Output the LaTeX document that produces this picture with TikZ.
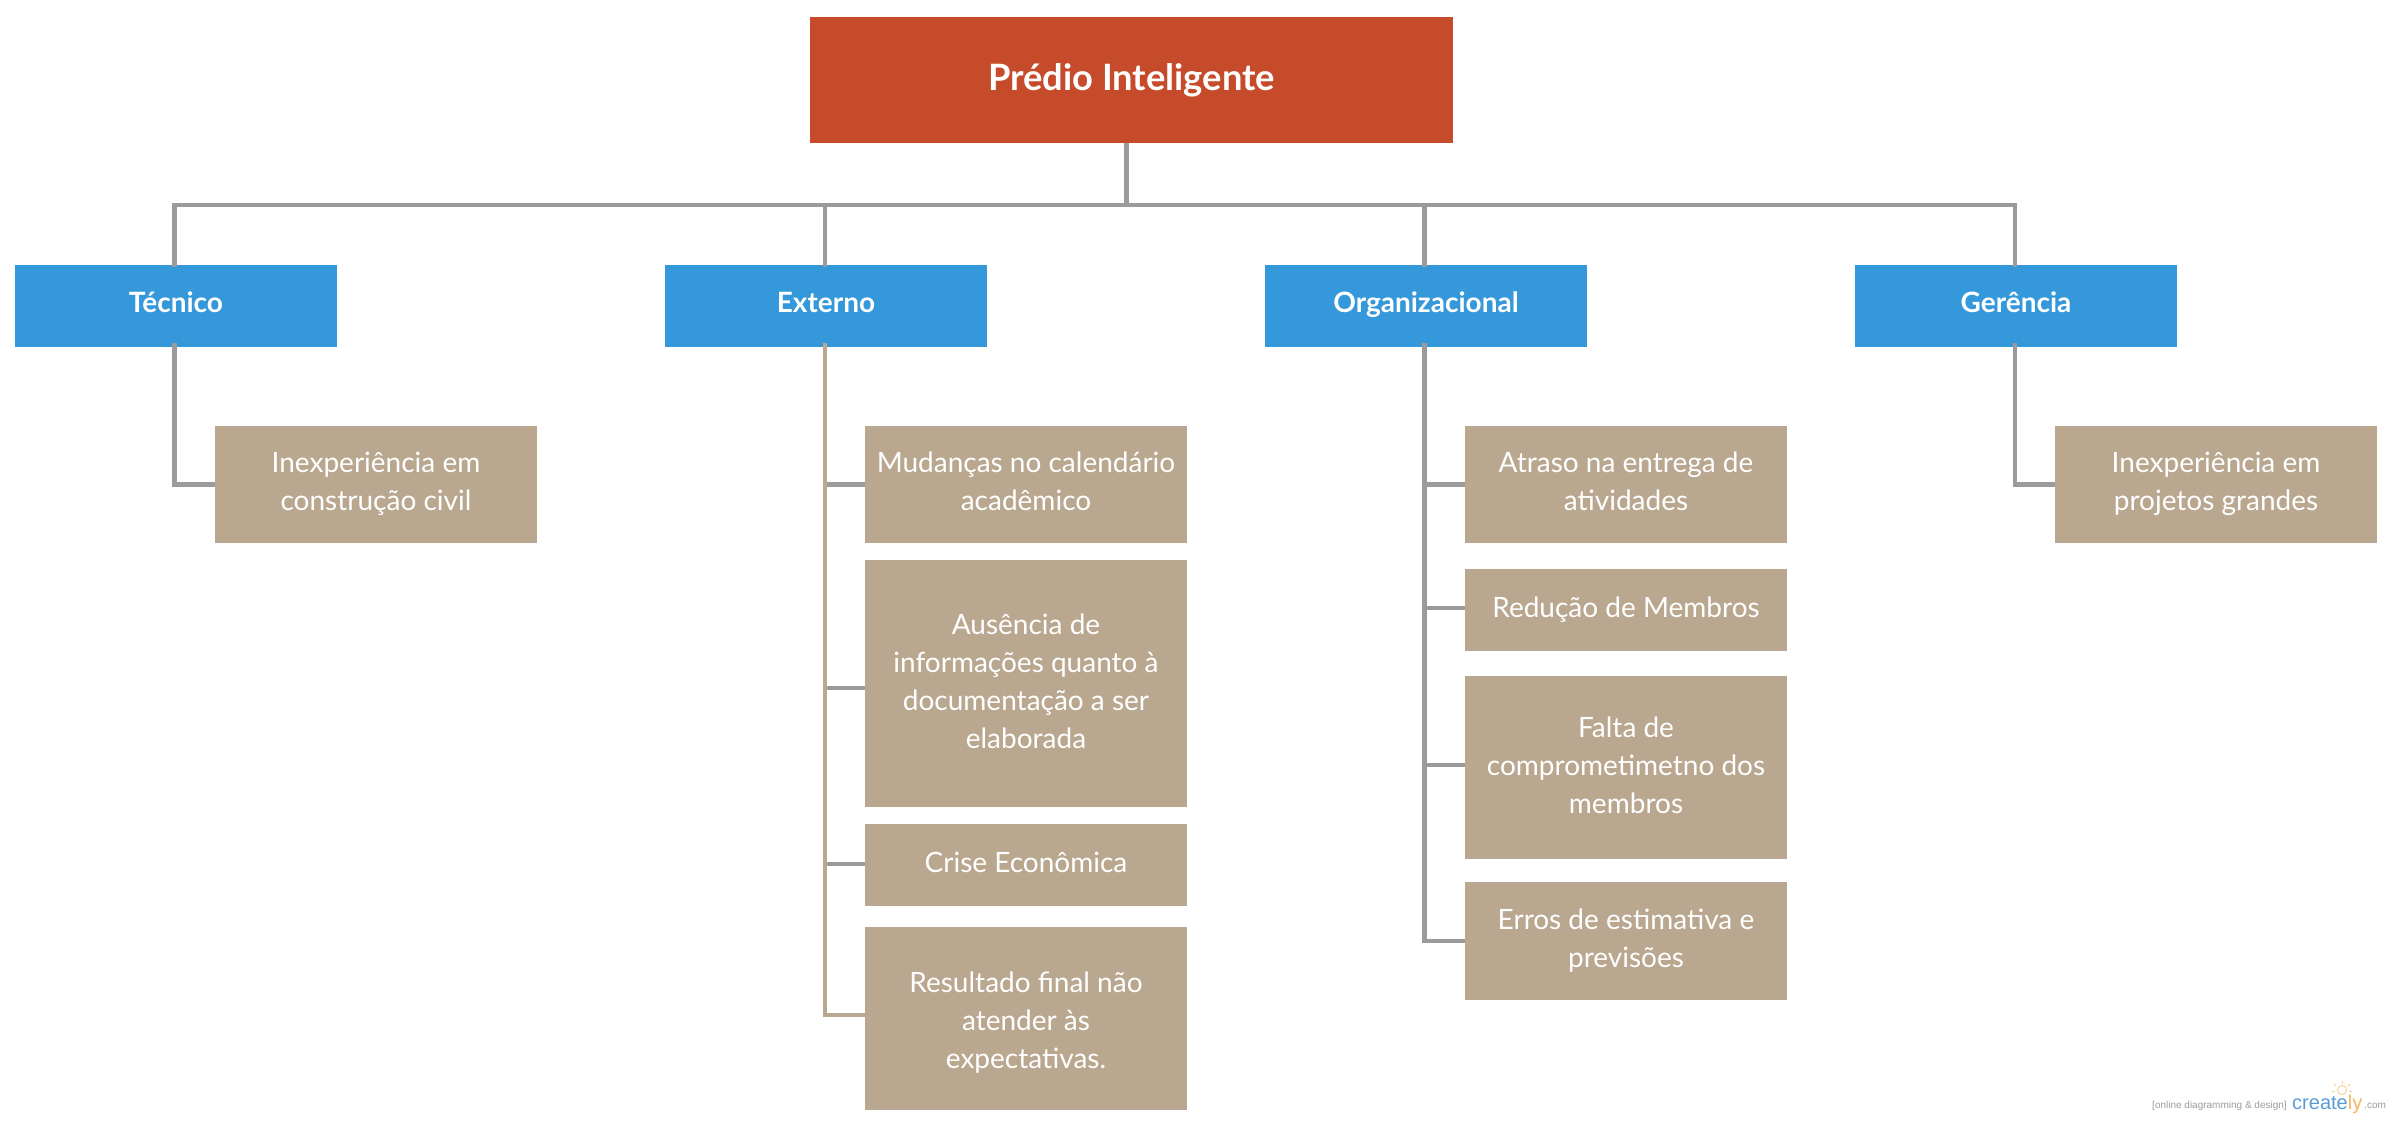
\documentclass[tikz,border=0pt]{standalone}
\usepackage{fontspec}
\setmainfont{Lato}
\newfontfamily\logofont{Liberation Sans}
\definecolor{rootred}{HTML}{C64B2B}
\definecolor{catblue}{HTML}{3498DB}
\definecolor{leaftan}{HTML}{B9A78F}
\definecolor{linegray}{HTML}{9B9B9B}
\definecolor{logoblue}{HTML}{5B9BD5}
\definecolor{logoorange}{HTML}{F5B562}
\definecolor{logogray}{HTML}{9A9A9A}
\newcommand{\liftxt}[2]{\raisebox{#1}[0pt][0pt]{\begin{tabular}[c]{@{}c@{}}#2\end{tabular}}}
\tikzset{
  rootbox/.style={fill=rootred,text=white,inner sep=0pt,minimum width=643pt,minimum height=126pt,font=\fontsize{36.3}{42}\selectfont\bfseries},
  catbox/.style={fill=catblue,text=white,inner sep=0pt,minimum width=322pt,minimum height=82pt,font=\fontsize{28}{38}\selectfont\bfseries},
  leafbox/.style={fill=leaftan,text=white,inner sep=0pt,minimum width=322pt,font=\fontsize{28}{38}\selectfont},
  conn/.style={draw=linegray,line width=4.4pt,line join=miter},
  conntan/.style={draw=leaftan,line width=4.4pt,line join=miter},
  logotxt/.style={anchor=base west,inner sep=0pt,font=\logofont\fontsize{10}{12}\selectfont,text=logogray},
  bulbline/.style={draw=logoorange!70,line width=0.9pt,line cap=round},
}
\begin{document}
\begin{tikzpicture}[x=1pt,y=-1pt]
\useasboundingbox (0,0) rectangle (2390,1120);
\node[rootbox] (root) at (1131.5,80) {\liftxt{-8.7pt}{Prédio Inteligente}};
\node[catbox] (tec) at (176,306) {\liftxt{-5pt}{Técnico}};
\node[catbox] (ext) at (826,306) {\liftxt{-5pt}{Externo}};
\node[catbox] (org) at (1426,306) {\liftxt{-5pt}{Organizacional}};
\node[catbox] (ger) at (2016,306) {\liftxt{-5pt}{Gerência}};
\node[leafbox,minimum height=117pt] (tec1) at (376,484.5) {\liftxt{-6pt}{Inexperiência em\\construção civil}};
\node[leafbox,minimum height=117pt] (ext1) at (1026,484.5) {\liftxt{-6pt}{Mudanças no calendário\\acadêmico}};
\node[leafbox,minimum height=247pt] (ext2) at (1026,683.5) {\liftxt{-6.5pt}{Ausência de\\informações quanto à\\documentação a ser\\elaborada}};
\node[leafbox,minimum height=82pt] (ext3) at (1026,865) {\liftxt{-6pt}{Crise Econômica}};
\node[leafbox,minimum height=183pt] (ext4) at (1026,1018.5) {\liftxt{-10.7pt}{Resultado final não\\atender às\\expectativas.}};
\node[leafbox,minimum height=117pt] (org1) at (1626,484.5) {\liftxt{-6pt}{Atraso na entrega de\\atividades}};
\node[leafbox,minimum height=82pt] (org2) at (1626,610) {\liftxt{-6pt}{Redução de Membros}};
\node[leafbox,minimum height=183pt] (org3) at (1626,767.5) {\liftxt{-6.7pt}{Falta de\\comprometimetno dos\\membros}};
\node[leafbox,minimum height=118pt] (org4) at (1626,941) {\liftxt{-6.5pt}{Erros de estimativa e\\previsões}};
\node[leafbox,minimum height=117pt] (ger1) at (2216,484.5) {\liftxt{-6pt}{Inexperiência em\\projetos grandes}};
% bus level
\coordinate (bus) at (1126.5,205);
\draw[conn] ([xshift=-5pt]root.south) -- (bus);
\draw[conn] ([xshift=-1.5pt,yshift=-2pt]tec.north) |- (bus);
\draw[conn] ([xshift=-1pt,yshift=-2pt]ext.north) |- (bus);
\draw[conn] ([xshift=-1.5pt,yshift=-2pt]org.north) |- (bus);
\draw[conn] ([xshift=-1pt,yshift=-2pt]ger.north) |- (bus);
% children
\draw[conn] ([xshift=-1.5pt,yshift=4pt]tec.south) |- (tec1.west);
\draw[conn] ([xshift=-1pt,yshift=4pt]ext.south) |- (ext1.west);
\draw[conn] ([xshift=-1pt,yshift=4pt]ext.south) |- ([yshift=-4.5pt]ext2.west);
\draw[conn] ([xshift=-1pt,yshift=4pt]ext.south) |- ([yshift=1pt]ext3.west);
\draw[conntan] ([xshift=-1pt,yshift=4pt]ext.south) |- ([yshift=3.5pt]ext4.west);
\draw[conn] ([xshift=-1.5pt,yshift=4pt]org.south) |- (org1.west);
\draw[conn] ([xshift=-1.5pt,yshift=4pt]org.south) |- ([yshift=2pt]org2.west);
\draw[conn] ([xshift=-1.5pt,yshift=4pt]org.south) |- ([yshift=2.5pt]org3.west);
\draw[conn] ([xshift=-1.5pt,yshift=4pt]org.south) |- (org4.west);
\draw[conn] ([xshift=-1pt,yshift=4pt]ger.south) |- (ger1.west);
% logo
\node[logotxt] (tagline) at (2152,1108) {[online diagramming \& design]};
\node[logotxt,text=logoblue,font=\logofont\fontsize{20}{24}\selectfont] (brand) at (2292,1109) {create\textcolor{logoorange}{ly}};
\node[logotxt] (dotcom) at (2364,1108) {.com};
\draw[bulbline] (2342,1090) circle (4.5pt);
\draw[bulbline] (2342,1081.5) -- (2342,1083.5);
\draw[bulbline] (2334,1084) -- (2336,1086);
\draw[bulbline] (2350,1084) -- (2348,1086);
\draw[bulbline] (2332,1091) -- (2334.5,1091);
\draw[bulbline] (2352,1091) -- (2349.5,1091);
\end{tikzpicture}
\end{document}
